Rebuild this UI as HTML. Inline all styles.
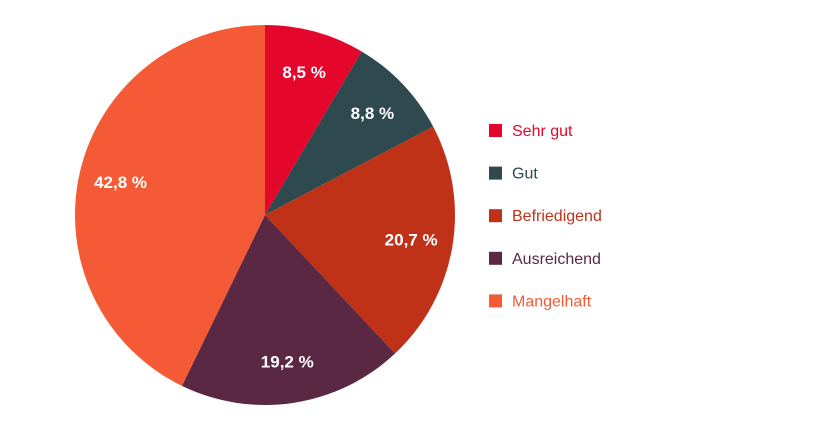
<!DOCTYPE html>
<html><head><meta charset="utf-8"><style>
body{margin:0;background:#fff;width:840px;height:429px;overflow:hidden;font-family:"Liberation Sans",sans-serif}
</style></head><body>
<svg width="840" height="429">
<g id="slices"></g><g id="labels"></g><g id="legend"></g>
</svg>
<script>
const categories=["Sehr gut","Gut","Befriedigend","Ausreichend","Mangelhaft"];
const values=[8.5,8.8,20.7,19.2,42.8];
const valueLabels=["8,5 %","8,8 %","20,7 %","19,2 %","42,8 %"];
const colors=["#e4062b","#2f4a4f","#c03218","#5a2843","#f45a35"];
const cx=265,cy=215,r=190,ns="http://www.w3.org/2000/svg";
const total=values.reduce((a,b)=>a+b,0);
let a0=0;
const gs=document.getElementById('slices'),gl=document.getElementById('labels'),gg=document.getElementById('legend');
function pt(a,d){return [cx+Math.sin(a)*d,cy-Math.cos(a)*d];}
values.forEach((v,i)=>{
 const a1=a0+v/total*2*Math.PI;
 const p0=pt(a0,r),p1=pt(a1,r);
 const p=document.createElementNS(ns,'path');
 p.setAttribute('d',`M${cx},${cy}L${p0[0]},${p0[1]}A${r},${r} 0 ${a1-a0>Math.PI?1:0} 1 ${p1[0]},${p1[1]}Z`);
 p.setAttribute('fill',colors[i]);
 
 
 gs.appendChild(p);
 const m=pt((a0+a1)/2,r*0.78);
 const t=document.createElementNS(ns,'text');
 t.setAttribute('x',m[0]);t.setAttribute('y',m[1]+6);
 t.setAttribute('text-anchor','middle');t.setAttribute('fill','#fff');
 t.setAttribute('font-size','17');t.setAttribute('font-weight','bold');
 t.textContent=valueLabels[i];
 
 
 gl.appendChild(t);
 const y=130+i*42.6;
 const s=document.createElementNS(ns,'rect');
 s.setAttribute('x',489);s.setAttribute('y',y-6);s.setAttribute('width',13);s.setAttribute('height',13);s.setAttribute('fill',colors[i]);
 
 
 gg.appendChild(s);
 const lt=document.createElementNS(ns,'text');
 lt.setAttribute('x',512);lt.setAttribute('y',y+6);lt.setAttribute('fill',colors[i]);lt.setAttribute('font-size','16');
 lt.textContent=categories[i];
 
 
 gg.appendChild(lt);
 a0=a1;
});
</script>
</body></html>
